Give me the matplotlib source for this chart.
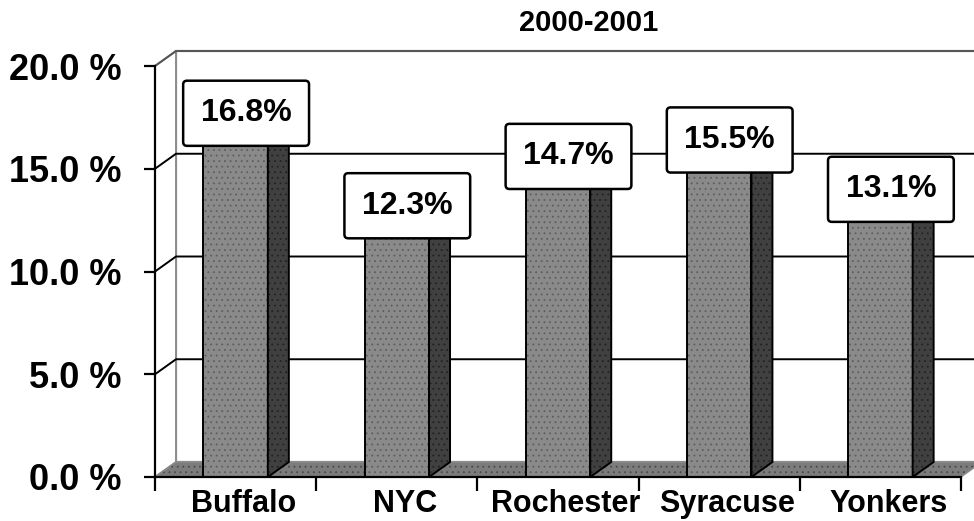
import matplotlib
matplotlib.use("Agg")
import matplotlib.pyplot as plt
from matplotlib.patches import Polygon
from matplotlib.transforms import ScaledTranslation

plt.rcParams['font.family'] = ['Liberation Sans', 'DejaVu Sans']
plt.rcParams['font.weight'] = 'bold'
plt.rcParams['hatch.linewidth'] = 0.6

# ---- data ----
title = "2000-2001"
cities = ["Buffalo", "NYC", "Rochester", "Syracuse", "Yonkers"]
rates = [16.8, 12.3, 14.7, 15.5, 13.1]
y_ticks = [0, 5, 10, 15, 20]

# ---- figure / axes layout (pixels) ----
W, H = 974, 521
fig = plt.figure(figsize=(W / 100, H / 100), dpi=100)
px_left, px_right = 155, 961      # front floor edge, left to right
px_zero, px_top = 477, 66         # front 0 % and 20 % levels (from top)
n = len(cities)
sx = (px_right - px_left) / n     # pixels per category
sy = (px_zero - px_top) / y_ticks[-1]  # pixels per percent
xmax = (W - px_left) / sx
ymax = 21.3
ax = fig.add_axes([px_left / W, (H - px_zero) / H, (W - px_left) / W, ymax * sy / H])
ax.set_xlim(0, xmax)
ax.set_ylim(0, ymax)

# 3-D depth offset of the chart box
DX = 21 / sx
DY = 15 / sy
ytop = y_ticks[-1]

WALL_EDGE = "#8c8c8c"
FRONT = "#8a8a8a"
FRONT_DOT = "#5e5e5e"
SIDE = "#404040"
SIDE_DOT = "#222222"
FLOOR = "#7c7c7c"
FLOOR_DOT = "#4a4a4a"


def stippled(pts, face, dot, z, edge="black", lw=1.4, hatch="..."):
    ax.add_patch(Polygon(pts, closed=True, facecolor=face, edgecolor=dot,
                         linewidth=0, hatch=hatch, zorder=z, clip_on=False))
    ax.add_patch(Polygon(pts, closed=True, fill=False, edgecolor=edge,
                         linewidth=lw, zorder=z + 0.01, clip_on=False))


# back wall and side wall
ax.add_patch(Polygon([(DX, DY), (xmax + 1, DY), (xmax + 1, ytop + DY), (DX, ytop + DY)],
                     closed=True, facecolor="white", edgecolor=WALL_EDGE,
                     linewidth=1.6, zorder=0.5, clip_on=True))
ax.add_patch(Polygon([(0, 0), (DX, DY), (DX, ytop + DY), (0, ytop)],
                     closed=True, facecolor="white", edgecolor=WALL_EDGE,
                     linewidth=1.4, zorder=0.6, clip_on=False))

# gridlines: diagonal on the side wall, horizontal on the back wall
for v in y_ticks[1:]:
    col = "black" if v < ytop else "#555555"
    ax.plot([0, DX, xmax + 1], [v, v + DY, v + DY], color=col, lw=1.4,
            zorder=1, solid_capstyle="butt", clip_on=True)

# floor
stippled([(0, 0), (n, 0), (n + DX, DY), (DX, DY)], FLOOR, FLOOR_DOT, 1.5,
         edge=WALL_EDGE, lw=1.0)

# columns
bw = 0.40
centers = [i + 0.5 for i in range(n)]
ax.bar(centers, rates, width=bw, color=FRONT, edgecolor=FRONT_DOT,
       linewidth=0, hatch="...", zorder=2)
ax.bar(centers, rates, width=bw, fill=False, edgecolor="black",
       linewidth=1.4, zorder=2.05)
for c, v in zip(centers, rates):
    xl, xr = c - bw / 2, c + bw / 2
    stippled([(xr, 0), (xr + DX, DY), (xr + DX, v + DY), (xr, v)], SIDE, SIDE_DOT, 2.1)
    stippled([(xl, v), (xr, v), (xr + DX, v + DY), (xl + DX, v + DY)], "#b0b0b0", FRONT_DOT, 2.1)
    ax.text(c + DX / 2, v + 0.9, f"{v:.1f}%", ha="center", va="center",
            fontsize=23, fontweight="bold", zorder=5,
            bbox=dict(boxstyle="round,pad=0.55,rounding_size=0.12",
                      facecolor="white", edgecolor="black", linewidth=1.8))

# front axes lines
for side in ("top", "right"):
    ax.spines[side].set_visible(False)
ax.spines["left"].set_bounds(0, ytop)
ax.spines["bottom"].set_bounds(0, n)
ax.spines["left"].set_linewidth(1.6)
ax.spines["bottom"].set_linewidth(1.6)
ax.spines["left"].set_zorder(3)
ax.spines["bottom"].set_zorder(3)

ax.set_yticks(y_ticks)
ax.set_yticklabels([f"{v:.1f} %" for v in y_ticks])
ax.tick_params(axis="y", direction="out", length=8, width=1.6, pad=16,
               labelsize=26)

ax.set_xticks(range(n + 1))
ax.set_xticklabels([""] * (n + 1))
ax.set_xticks(centers, minor=True)
ax.set_xticklabels(cities, minor=True)
ax.tick_params(axis="x", which="major", direction="out", length=10, width=1.6)
ax.tick_params(axis="x", which="minor", length=0, pad=8.5, labelsize=22)
shift = ScaledTranslation(0.08, 0, fig.dpi_scale_trans)
for lbl in ax.get_xticklabels(minor=True):
    lbl.set_fontweight("bold")
    lbl.set_transform(lbl.get_transform() + shift)
for lbl in ax.get_yticklabels():
    lbl.set_fontweight("bold")

fig.text(589 / W, 1 - 23 / H, title, ha="center", va="center",
         fontsize=21, fontweight="bold")

fig.savefig("out.png", dpi=100)
